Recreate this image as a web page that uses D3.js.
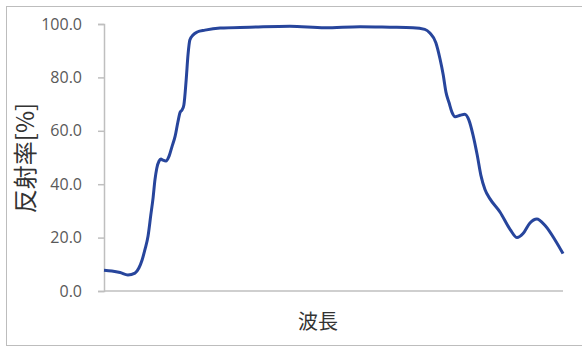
<!DOCTYPE html>
<html>
<head>
<meta charset="utf-8">
<script src="https://cdn.jsdelivr.net/npm/d3@7"></script>
<style>
  body { margin: 0; background: #fff; }
  svg { display: block; }
</style>
</head>
<body>
<div id="chart"></div>
<script>
// relative wavelength (0..100) and reflectance [%]
const wavelength = [0, 1.7, 3.5, 5.2, 6.75, 7.6, 8.3, 8.9, 9.6, 10.2, 10.7, 11.1, 11.5, 12.0, 12.4, 12.85, 13.5, 14.2, 14.8, 15.5, 16.1, 16.6, 17.0, 17.4, 17.9, 18.3, 18.7, 19.4, 20.3, 22.0, 25.3, 31.8, 40.5, 48.1, 55.8, 62.3, 67.3, 69.9, 71.0, 72.3, 73.2, 73.9, 74.5, 75.2, 75.8, 76.5, 77.6, 78.6, 79.5, 80.4, 81.3, 82.1, 83.0, 84.1, 86.3, 88.5, 90.0, 91.3, 92.8, 94.3, 96.1, 98.3, 100];
const reflectance = [7.8, 7.5, 6.9, 6.0, 6.7, 8.6, 11.6, 15.4, 20.6, 28.5, 35, 41.6, 46, 48.7, 49.4, 49, 48.7, 50.6, 54, 58, 63.3, 67, 67.8, 69.7, 79, 88.4, 94, 95.9, 97, 97.7, 98.5, 98.8, 99.2, 98.6, 99.0, 98.8, 98.6, 98.0, 96.6, 93, 87, 81, 74.5, 70.4, 67, 65.3, 65.8, 66.2, 64, 58.4, 51, 43.4, 38, 34.5, 29.5, 23, 20, 21.5, 25.5, 27, 24.5, 19, 14];
const yTicks = [0, 20, 40, 60, 80, 100];

const width = 582, height = 347;
const margin = { top: 24, right: 19, bottom: 56, left: 104 };

const svg = d3.select("#chart").append("svg")
  .attr("width", width)
  .attr("height", height);

// outer frame
svg.append("rect")
  .attr("x", 6.5).attr("y", 6.5)
  .attr("width", 600).attr("height", 339)
  .attr("fill", "#fff")
  .attr("stroke", "#bdbdbd");

const x = d3.scaleLinear().domain([0, 100]).range([margin.left, width - margin.right]);
const y = d3.scaleLinear().domain([0, 100]).range([height - margin.bottom, margin.top]);

// y axis
const yAxis = svg.append("g")
  .attr("transform", `translate(${margin.left},0)`)
  .call(d3.axisLeft(y).tickValues(yTicks).tickFormat(d3.format(".1f")).tickSize(6).tickPadding(16));
yAxis.select(".domain").attr("stroke", "#bfbfbf").attr("stroke-width", 1.5);
yAxis.selectAll(".tick line").attr("stroke", "#bfbfbf").attr("stroke-width", 1.5);
yAxis.selectAll(".tick text")
  .attr("fill", "#595959")
  .style("font-family", "'Open Sans', sans-serif")
  .style("font-size", "16px");

// x axis baseline
svg.append("line")
  .attr("x1", margin.left).attr("x2", width - margin.right)
  .attr("y1", y(0)).attr("y2", y(0))
  .attr("stroke", "#bfbfbf").attr("stroke-width", 1.5);

// data line
const pts = wavelength.map((w, i) => [w, reflectance[i]]);
const line = d3.line()
  .x(d => x(d[0]))
  .y(d => y(d[1]))
  .curve(d3.curveMonotoneX);

svg.append("path")
  .datum(pts)
  .attr("fill", "none")
  .attr("stroke", "#27459c")
  .attr("stroke-width", 3)
  .attr("stroke-linejoin", "round")
  .attr("d", line);

// axis titles
svg.append("text")
  .attr("x", 318).attr("y", 329)
  .attr("text-anchor", "middle")
  .attr("fill", "#333")
  .style("font-family", "'Noto Sans CJK JP', sans-serif")
  .style("font-size", "20px")
  .text("波長");

svg.append("text")
  .attr("transform", "translate(34,158) rotate(-90)")
  .attr("text-anchor", "middle")
  .attr("fill", "#333")
  .style("font-family", "'Noto Sans CJK JP', sans-serif")
  .style("font-size", "24px")
  .text("反射率[%]");
</script>
</body>
</html>
